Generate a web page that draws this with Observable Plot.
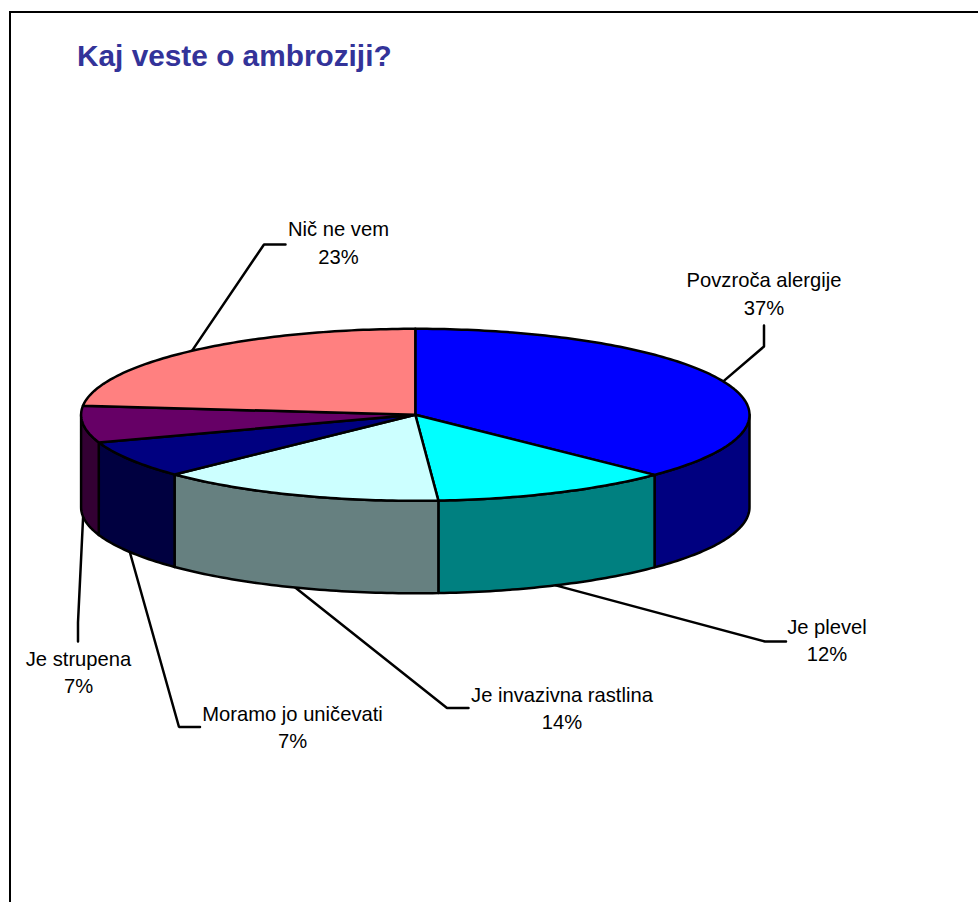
<!DOCTYPE html>
<html>
<head>
<meta charset="utf-8">
<script src="https://cdn.jsdelivr.net/npm/d3@7"></script>
<script src="https://cdn.jsdelivr.net/npm/@observablehq/plot@0.6"></script>
<style>
  html, body { margin: 0; padding: 0; background: #fff; overflow: hidden; }
  #frame { position: absolute; left: 9px; top: 11px; width: 969px; height: 891px; box-sizing: border-box;
           border-left: 2px solid #000; border-top: 2px solid #000; overflow: hidden; }
  h1 { margin: 0 0 0 66px; height: 67px; font: bold 29.8px/85px "Liberation Sans", Arial, sans-serif; color: #333399; white-space: nowrap; }
  #chart { margin-left: -11px; }
  #chart svg { display: block; }
</style>
</head>
<body>
<div id="frame">
  <h1>Kaj veste o ambroziji?</h1>
  <div id="chart"></div>
</div>
<script>
// Data, in drawing order, clockwise from twelve o'clock
const categories = ["Povzroča alergije", "Je plevel", "Je invazivna rastlina", "Moramo jo uničevati", "Je strupena", "Nič ne vem"];
const values = [37.3, 11.6, 13.9, 7.0, 6.9, 23.3];       // estimated slice shares
const percentLabels = ["37%", "12%", "14%", "7%", "7%", "23%"];
const topColors = ["#0000FF", "#00FFFF", "#CCFFFF", "#000080", "#660066", "#FF8080"];
const sideColors = ["#000080", "#008080", "#668080", "#000040", "#330033", "#803F40"];

// Layout of the tilted disc and its callouts (separate from the data)
const cx = 414.8, cy = 414.3, rx = 334.2, ry = 86, depth = 92.5;
const top0 = 80, W = 978, H = 822;
const elbows = [[763.5, 346], [764.5, 641], [446.5, 707.5], [178.5, 726.5], [77.5, 622], [263.5, 244]];
const leaderEnds = [[763.5, 325], [785.5, 641], [468, 707.5], [199.5, 726.5], [77.5, 641], [285, 244]];
const labelAt = [[763.5, 286.5], [826.5, 633], [561.5, 701], [292, 720], [78, 665], [338, 235.5]];

const total = d3.sum(values);
const cum = d3.cumsum(values);
const slices = categories.map((name, i) => ({
  name, pct: percentLabels[i], top: topColors[i], side: sideColors[i],
  a0: (i ? cum[i - 1] : 0) / total * 360,
  a1: cum[i] / total * 360
}));
const px = a => cx + rx * Math.sin(a * Math.PI / 180);
const py = (a, d = 0) => cy - ry * Math.cos(a * Math.PI / 180) + d;
const arc = (a0, a1) => { const n = Math.max(2, Math.ceil(Math.abs(a1 - a0))); return d3.range(n + 1).map(k => a0 + (a1 - a0) * k / n); };

const sidePts = [];
const topPts = [];
slices.forEach(s => {
  topPts.push({ id: s.name, fill: s.top, x: cx, y: cy });
  arc(s.a0, s.a1).forEach(a => topPts.push({ id: s.name, fill: s.top, x: px(a), y: py(a) }));
  const a0 = Math.max(s.a0, 90), a1 = Math.min(s.a1, 270);
  if (a1 > a0) {
    arc(a0, a1).forEach(a => sidePts.push({ id: s.name, fill: s.side, x: px(a), y: py(a) }));
    arc(a0, a1).reverse().forEach(a => sidePts.push({ id: s.name, fill: s.side, x: px(a), y: py(a, depth) }));
  }
});

const leaderPts = slices.flatMap((s, i) => {
  const mid = (s.a0 + s.a1) / 2;
  const front = mid > 90 && mid < 270;
  return [
    { id: s.name, x: px(mid), y: py(mid, front ? depth : 0) },
    { id: s.name, x: elbows[i][0], y: elbows[i][1] },
    { id: s.name, x: leaderEnds[i][0], y: leaderEnds[i][1] }
  ];
});

const labels = slices.map((s, i) => ({ name: s.name, pct: s.pct, x: labelAt[i][0], y: labelAt[i][1] }));

const textOpts = { fontFamily: "'Liberation Sans', Arial, sans-serif", fontSize: 20.2, fill: "#000", textAnchor: "middle", lineAnchor: "bottom" };

const chart = Plot.plot({
  width: W, height: H, margin: 0,
  x: { axis: null, domain: [0, W], range: [0, W] },
  y: { axis: null, domain: [top0, top0 + H], range: [0, H] },
  style: { background: "transparent" },
  marks: [
    Plot.line(leaderPts, { x: "x", y: "y", z: "id", stroke: "#000", strokeWidth: 2.5, curve: "linear", strokeLinejoin: "miter" }),
    Plot.line(sidePts, { x: "x", y: "y", z: "id", fill: "fill", stroke: "#000", strokeWidth: 2.5, curve: "linear-closed" }),
    Plot.line(topPts, { x: "x", y: "y", z: "id", fill: "fill", stroke: "#000", strokeWidth: 2.5, curve: "linear-closed" }),
    Plot.text(labels, { x: "x", y: "y", text: "name", dy: 0, ...textOpts }),
    Plot.text(labels, { x: "x", y: "y", text: "pct", dy: 27.7, ...textOpts })
  ]
});
document.getElementById("chart").appendChild(chart);
</script>
</body>
</html>
